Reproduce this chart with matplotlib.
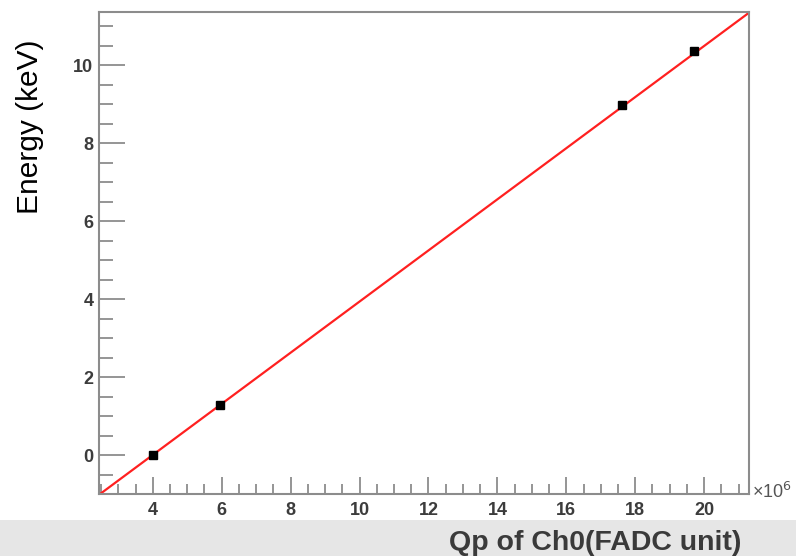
import matplotlib
matplotlib.use('Agg')
import matplotlib.pyplot as plt
from matplotlib.patches import Rectangle
from matplotlib.ticker import MultipleLocator
import numpy as np

# measured points (Qp in units of 1e6, energy in keV)
qp = [4.0, 5.96, 17.62, 19.71]
energy = [0.0, 1.28, 8.97, 10.36]

# linear fit parameters (energy = slope * qp + offset)
fit_slope = 0.6555
fit_offset = -2.62
fit_range = [2.44, 21.3]

plt.rcParams['font.family'] = ['Liberation Sans', 'DejaVu Sans']

fig = plt.figure(figsize=(7.96, 5.56), dpi=100)
ax = fig.add_axes([99 / 796, 62 / 556, 650 / 796, 482 / 556])

xs = np.array(fit_range)
ax.plot(xs, fit_slope * xs + fit_offset, color='#ff2020', linewidth=1.6, zorder=2)
ax.plot(qp, energy, 's', color='black', markersize=5.5, zorder=3)

ax.set_xlim(fit_range[0], fit_range[1])
ax.set_ylim(-1.0, 11.36)

ax.xaxis.set_major_locator(MultipleLocator(2))
ax.xaxis.set_minor_locator(MultipleLocator(0.5))
ax.yaxis.set_major_locator(MultipleLocator(2))
ax.yaxis.set_minor_locator(MultipleLocator(0.5))

axis_col = '#8c8c8c'
for s in ax.spines.values():
    s.set_color(axis_col)
    s.set_linewidth(1.5)

ax.tick_params(which='both', direction='in', color=axis_col, width=1.3,
               top=False, right=False, labelcolor='#3c3c3c', labelsize=13)
ax.tick_params(axis='y', which='major', length=19, pad=4)
ax.tick_params(axis='y', which='minor', length=10)
ax.tick_params(axis='x', which='major', length=12, pad=6)
ax.tick_params(axis='x', which='minor', length=7)
for t in ax.get_xticklabels() + ax.get_yticklabels():
    t.set_fontweight('bold')

# y label placed like in the original (upper part of the axis)
fig.text(30 / 796, 1 - 127 / 556, 'Energy (keV)', fontsize=21.5, color='black',
         rotation=90, ha='center', va='center')

fig.text(752 / 796, 1 - 492 / 556, '×10$^{6}$', fontsize=13, color='#555555',
         ha='left', va='center')

# gray band at bottom with the x label
fig.add_artist(Rectangle((0, 0), 1, 36 / 556, transform=fig.transFigure,
                         facecolor='#e6e6e6', edgecolor='none', zorder=10))
fig.text(741 / 796, 6 / 556, 'Qp of Ch0(FADC unit)', fontsize=20.5, fontweight='bold',
         color='#3a3a3a', ha='right', va='baseline', zorder=11)

fig.savefig('out.png', dpi=100)
